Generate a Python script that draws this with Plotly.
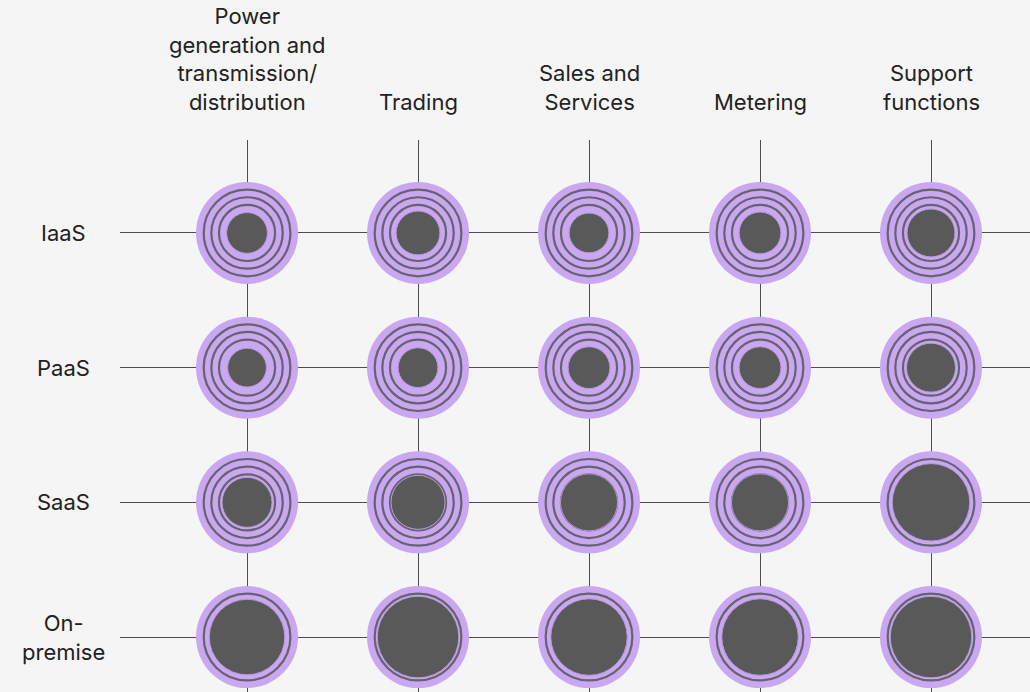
import plotly.graph_objects as go

columns = [
    "Power<br>generation and<br>transmission/<br>distribution",
    "Trading",
    "Sales and<br>Services",
    "Metering",
    "Support<br>functions",
]
rows = ["IaaS", "PaaS", "SaaS", "On-<br>premise"]

# share of the outer circle taken by the dark core, per row (left to right)
iaas = [0.40, 0.43, 0.39, 0.41, 0.47]
paas = [0.38, 0.39, 0.41, 0.41, 0.48]
saas = [0.49, 0.53, 0.56, 0.56, 0.76]
on_premise = [0.74, 0.80, 0.75, 0.75, 0.80]
ring_levels = [0.85, 0.70, 0.55]

values = [iaas, paas, saas, on_premise]

OUTER = 102  # px diameter of the purple disc
PURPLE = "#c9a7f1"
CORE = "#595959"
RING = "#66626e"

xs, ys, cores = [], [], []
for j, row in enumerate(values):
    for i, v in enumerate(row):
        xs.append(i)
        ys.append(j)
        cores.append(v * OUTER)

fig = go.Figure()

# purple base
fig.add_trace(go.Scatter(
    x=xs, y=ys, mode="markers", hoverinfo="skip",
    marker=dict(size=OUTER, color=PURPLE, opacity=1, line=dict(width=0)),
))

# concentric rings
for lvl in ring_levels:
    fig.add_trace(go.Scatter(
        x=xs, y=ys, mode="markers", hoverinfo="skip",
        marker=dict(size=lvl * OUTER, color="rgba(0,0,0,0)", opacity=1,
                    line=dict(width=2.2, color=RING)),
    ))

# dark core
fig.add_trace(go.Scatter(
    x=xs, y=ys, mode="markers", hoverinfo="skip",
    marker=dict(size=cores, color=CORE, opacity=1,
                line=dict(width=1, color="#b49bd6")),
))

# labels
for i, c in enumerate(columns):
    fig.add_annotation(
        x=i, xref="x", y=1.042, yref="paper", yanchor="bottom",
        text=c, showarrow=False, align="center",
        font=dict(family="Inter", size=22, color="#222222"),
    )
for j, r in enumerate(rows):
    fig.add_annotation(
        x=-0.0626, xref="paper", y=j, yref="y", xanchor="center",
        text=r, showarrow=False, align="center",
        font=dict(family="Inter", size=22, color="#222222"),
    )

fig.update_layout(
    width=1030, height=692,
    margin=dict(l=120, r=0, t=140, b=0),
    paper_bgcolor="#f5f5f5", plot_bgcolor="#f5f5f5",
    showlegend=False,
    xaxis=dict(range=[-0.743, 4.579], tickvals=list(range(5)),
               showticklabels=False, showgrid=True, gridcolor="#4d4d4d",
               gridwidth=1.2, zeroline=False, fixedrange=True),
    yaxis=dict(range=[3.408, -0.690], tickvals=list(range(4)),
               showticklabels=False, showgrid=True, gridcolor="#4d4d4d",
               gridwidth=1.2, zeroline=False, fixedrange=True),
)

fig.write_html(
    "out.html",
    config={"displayModeBar": False},
    post_script="document.body.style.margin='0';",
)
